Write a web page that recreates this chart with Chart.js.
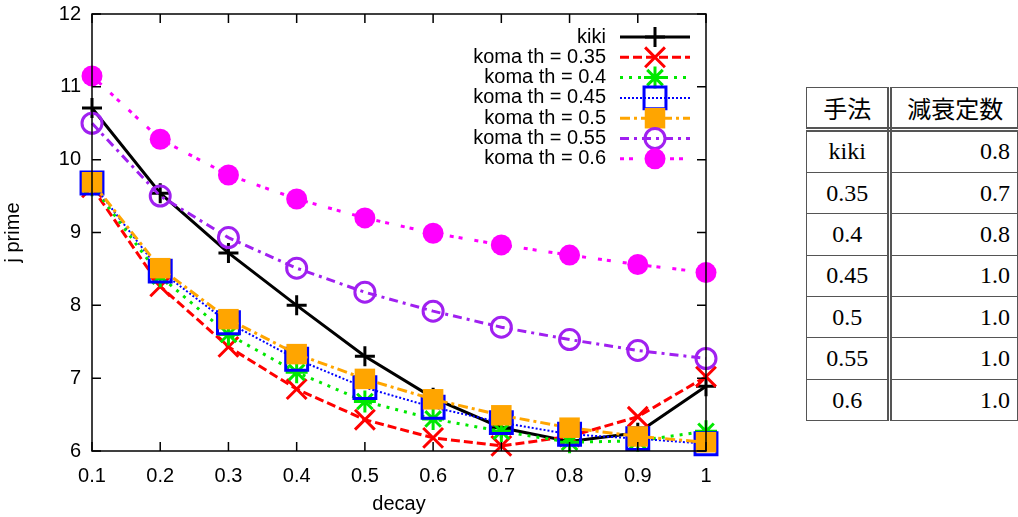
<!DOCTYPE html>
<html>
<head>
<meta charset="utf-8">
<script src="https://cdn.jsdelivr.net/npm/chart.js@4/dist/chart.umd.min.js"></script>
<style>
  html, body { margin: 0; padding: 0; background: #fff; }
  #wrap { position: relative; width: 1018px; height: 517px; overflow: hidden; }
  #chartBox { position: absolute; left: 0; top: 0; width: 760px; height: 517px; }
  #tbl { position: absolute; left: 806px; top: 87px; border-collapse: collapse; }
  #tbl td, #tbl th { border: 1.5px solid #555; height: 40.4px; padding: 0 7px; font-family: "Liberation Serif", serif; font-size: 24px; font-weight: normal; color: #000; }
  #tbl th { font-family: "Noto Sans CJK JP", sans-serif; font-size: 24px; height: 38.5px; border-bottom: 5px double #555; }
  #tbl .c1 { width: 67px; text-align: center; border-right: 5px double #555; }
  #tbl .c2 { width: 112px; text-align: right; }
  #tbl th.c2 { text-align: center; padding-left: 8px; }
</style>
</head>
<body>
<div id="wrap">
  <div id="chartBox"><canvas id="c"></canvas></div>
  <table id="tbl"><thead></thead><tbody></tbody></table>
</div>
<script>
// ---- data ----
const decay = [0.1, 0.2, 0.3, 0.4, 0.5, 0.6, 0.7, 0.8, 0.9, 1.0];
const xTickValues = [0.1, 0.2, 0.3, 0.4, 0.5, 0.6, 0.7, 0.8, 0.9, 1];
const seriesNames = ['kiki', 'koma th = 0.35', 'koma th = 0.4', 'koma th = 0.45', 'koma th = 0.5', 'koma th = 0.55', 'koma th = 0.6'];
const kiki  = [10.71, 9.54, 8.72, 8.00, 7.30, 6.73, 6.32, 6.13, 6.25, 6.89];
const th035 = [9.62, 8.26, 7.43, 6.85, 6.43, 6.18, 6.07, 6.20, 6.47, 7.02];
const th040 = [9.65, 8.40, 7.60, 7.08, 6.68, 6.44, 6.27, 6.12, 6.14, 6.27];
const th045 = [9.68, 8.47, 7.76, 7.26, 6.87, 6.60, 6.39, 6.23, 6.17, 6.10];
const th050 = [9.69, 8.51, 7.81, 7.33, 6.99, 6.71, 6.49, 6.32, 6.20, 6.12];
const th055 = [10.50, 9.50, 8.93, 8.51, 8.18, 7.92, 7.70, 7.53, 7.38, 7.27];
const th060 = [11.15, 10.28, 9.79, 9.46, 9.20, 8.99, 8.83, 8.69, 8.56, 8.45];
const tableHeader = ['手法', '減衰定数'];
const tableMethods = ['kiki', '0.35', '0.4', '0.45', '0.5', '0.55', '0.6'];
const tableDecay = ['0.8', '0.7', '0.8', '1.0', '1.0', '1.0', '1.0'];

// ---- table ----
(function () {
  const thead = document.querySelector('#tbl thead');
  const tbody = document.querySelector('#tbl tbody');
  thead.innerHTML = '<tr><th class="c1">' + tableHeader[0] + '</th><th class="c2">' + tableHeader[1] + '</th></tr>';
  let h = '';
  for (let i = 0; i < tableMethods.length; i++) {
    h += '<tr><td class="c1">' + tableMethods[i] + '</td><td class="c2">' + tableDecay[i] + '</td></tr>';
  }
  tbody.innerHTML = h;
})();

// ---- chart ----
const values = [kiki, th035, th040, th045, th050, th055, th060];
const styles = [
  { color: '#000000', dash: [], width: 3, point: 'cross', r: 10, pbw: 3, fill: 'transparent' },
  { color: '#ff0000', dash: [9, 4], width: 3, point: 'crossRot', r: 14, pbw: 3, fill: 'transparent' },
  { color: '#00e800', dash: [3, 6], width: 3, point: 'star', r: 11, pbw: 3, fill: 'transparent' },
  { color: '#0000ff', dash: [2, 2], width: 2, point: 'rect', r: 15.5, pbw: 3, fill: 'transparent' },
  { color: '#ffa500', dash: [10, 4, 3, 4], width: 3, point: 'rect', r: 14.5, pbw: 0, fill: '#ffa500' },
  { color: '#a020f0', dash: [9, 5, 3, 5], width: 3, point: 'circle', r: 10, pbw: 3, fill: 'transparent' },
  { color: '#ff00ff', dash: [4, 5, 4, 12], width: 3, point: 'circle', r: 10.5, pbw: 0, fill: '#ff00ff' }
];

const datasets = values.map((vals, i) => ({
  label: seriesNames[i],
  data: decay.map((x, j) => ({ x: x, y: vals[j] })),
  borderColor: styles[i].color,
  borderWidth: styles[i].width,
  borderDash: styles[i].dash,
  backgroundColor: styles[i].fill,
  pointStyle: styles[i].point,
  pointRadius: styles[i].r,
  pointBorderWidth: styles[i].pbw,
  pointBorderColor: styles[i].color,
  pointBackgroundColor: styles[i].fill,
  pointHoverRadius: styles[i].r,
  tension: 0,
  fill: false,
  clip: false,
  order: values.length - i
}));

const FONT = '"Liberation Sans", Arial, sans-serif';

const frame = {
  id: 'frame',
  afterDatasetsDraw(chart) {
    const ctx = chart.ctx, a = chart.chartArea;
    const xs = chart.scales.x, ys = chart.scales.y;
    ctx.save();
    ctx.strokeStyle = '#000';
    ctx.lineWidth = 1.5;
    ctx.setLineDash([]);
    ctx.strokeRect(a.left, a.top, a.right - a.left, a.bottom - a.top);
    const L = 9;
    ctx.beginPath();
    xTickValues.forEach(v => {
      const px = xs.getPixelForValue(v);
      ctx.moveTo(px, a.bottom); ctx.lineTo(px, a.bottom - L);
      ctx.moveTo(px, a.top); ctx.lineTo(px, a.top + L);
    });
    ys.ticks.forEach(t => {
      const py = ys.getPixelForValue(t.value);
      ctx.moveTo(a.left, py); ctx.lineTo(a.left + L, py);
      ctx.moveTo(a.right, py); ctx.lineTo(a.right - L, py);
    });
    ctx.stroke();

    // legend
    const textRight = a.right - 100;
    const x0 = a.right - 86, x1 = a.right - 16, xm = a.right - 51;
    chart.data.datasets.forEach((ds, i) => {
      const y = a.top + 23 + i * 20.3;
      ctx.fillStyle = '#000';
      ctx.font = '20px ' + FONT;
      ctx.textAlign = 'right';
      ctx.textBaseline = 'middle';
      ctx.fillText(ds.label, textRight, y);
      ctx.strokeStyle = ds.borderColor;
      ctx.lineWidth = ds.borderWidth;
      ctx.setLineDash(ds.borderDash);
      ctx.beginPath();
      ctx.moveTo(x0, y); ctx.lineTo(x1, y);
      ctx.stroke();
      ctx.setLineDash([]);
      ctx.fillStyle = ds.pointBackgroundColor;
      ctx.strokeStyle = ds.pointBorderColor;
      ctx.lineWidth = ds.pointBorderWidth;
      if (Chart.helpers && Chart.helpers.drawPoint) {
        Chart.helpers.drawPoint(ctx, { pointStyle: ds.pointStyle, rotation: 0, radius: ds.pointRadius, borderWidth: ds.pointBorderWidth }, xm, y);
      }
    });
    ctx.restore();
  }
};

new Chart(document.getElementById('c'), {
  type: 'line',
  data: { datasets: datasets },
  options: {
    responsive: true,
    maintainAspectRatio: false,
    animation: false,
    events: [],
    layout: { autoPadding: false, padding: { left: 0, top: 14, right: 54, bottom: 0 } },
    plugins: { legend: { display: false }, tooltip: { enabled: false } },
    scales: {
      x: {
        type: 'linear',
        min: 0.1,
        max: 1,
        afterBuildTicks: (s) => { s.ticks = xTickValues.map(v => ({ value: v })); },
        afterFit: (s) => { s.height = 66; s.paddingLeft = 0; s.paddingRight = 0; },
        grid: { display: false, drawTicks: false },
        border: { display: false },
        ticks: { color: '#000', font: { family: FONT, size: 20 }, padding: 13, maxRotation: 0, autoSkip: false,
          callback: (v) => String(Math.round(v * 10) / 10) },
        title: { display: true, text: 'decay', color: '#000', font: { family: FONT, size: 20 }, padding: { top: 0, bottom: 1 } }
      },
      y: {
        min: 6,
        max: 12,
        afterFit: (s) => { s.width = 92; s.paddingTop = 0; s.paddingBottom = 0; },
        grid: { display: false, drawTicks: false },
        border: { display: false },
        ticks: { stepSize: 1, color: '#000', font: { family: FONT, size: 20 }, padding: 11 },
        title: { display: true, text: 'j prime', color: '#000', font: { family: FONT, size: 20 }, padding: { top: 1, bottom: 0 } }
      }
    }
  },
  plugins: [frame]
});
</script>
</body>
</html>
